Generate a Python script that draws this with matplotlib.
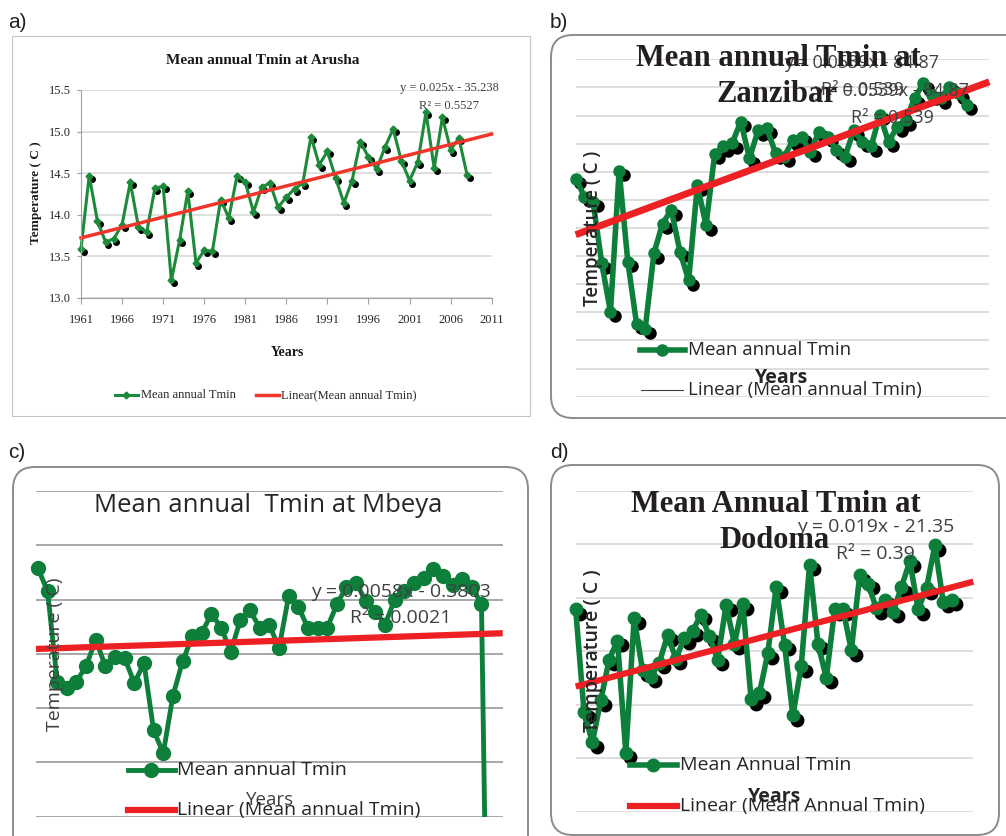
import numpy as np
import matplotlib
matplotlib.use("Agg")
import matplotlib.pyplot as plt
from matplotlib.patches import FancyBboxPatch, Rectangle
from matplotlib.lines import Line2D
from matplotlib.transforms import offset_copy

W, H = 1006, 836
SERIF = "Liberation Serif"
SANS = "Open Sans"
GREEN = "#0e7f3b"
RED = "#ed2024"

# ---- values ----
arusha_tmin = [13.59, 14.47, 13.92, 13.67, 13.71, 13.88, 14.39, 13.85, 13.79, 14.32,
               14.34, 13.21, 13.69, 14.28, 13.42, 13.57, 13.56, 14.18, 13.96, 14.47,
               14.39, 14.03, 14.33, 14.38, 14.09, 14.21, 14.31, 14.38, 14.94, 14.60,
               14.76, 14.44, 14.14, 14.41, 14.88, 14.69, 14.55, 14.81, 15.03, 14.65,
               14.41, 14.63, 15.23, 14.56, 15.17, 14.78, 14.92, 14.48]
arusha_trend = [13.72, 14.97]   # at 1961 and 2011

zanzibar_tmin = [22.88, 22.56, 22.47, 21.37, 20.51, 23.02, 21.40, 20.30, 20.21, 21.55,
                 22.08, 22.32, 21.58, 21.07, 22.76, 22.05, 23.32, 23.45, 23.51, 23.89,
                 23.24, 23.74, 23.77, 23.33, 23.27, 23.56, 23.62, 23.36, 23.71, 23.62,
                 23.39, 23.27, 23.74, 23.53, 23.45, 24.01, 23.53, 23.80, 23.92, 24.31,
                 24.57, 24.37, 24.31, 24.51, 24.40, 24.19]
zanzibar_trend = [21.88, 24.60]

mbeya_tmin = [12.58, 12.15, 10.49, 10.37, 10.49, 10.78, 11.26, 10.77, 10.95, 10.92,
              10.46, 10.83, 9.59, 9.17, 10.23, 10.86, 11.32, 11.39, 11.74, 11.48,
              11.04, 11.63, 11.80, 11.48, 11.54, 11.10, 12.06, 11.87, 11.48, 11.48,
              11.48, 11.91, 12.24, 12.31, 11.97, 11.78, 11.54, 12.00, 12.15, 12.31,
              12.40, 12.56, 12.43, 12.27, 12.37, 12.24, 11.91, 0.0]
mbeya_trend = [11.09, 11.38]

dodoma_tmin = [16.39, 15.43, 15.15, 15.54, 15.92, 16.10, 15.05, 16.31, 15.82, 15.76,
               15.89, 16.15, 15.93, 16.12, 16.19, 16.34, 16.14, 15.92, 16.43, 16.07,
               16.44, 15.55, 15.61, 15.98, 16.60, 16.06, 15.40, 15.86, 16.81, 16.07,
               15.75, 16.39, 16.39, 16.01, 16.71, 16.63, 16.40, 16.48, 16.37, 16.60,
               16.84, 16.39, 16.59, 16.99, 16.46, 16.48]
dodoma_trend = [15.67, 16.65]


def px_rect(x0, y0, x1, y1):
    return [x0 / W, 1 - y1 / H, (x1 - x0) / W, (y1 - y0) / H]


fig = plt.figure(figsize=(W / 100, H / 100), dpi=100)

# ---------- a) Arusha ----------
ax = fig.add_axes(px_rect(81, 90, 491.7, 297.7))
ax.set_facecolor("none")
yrs = np.arange(1961, 1961 + len(arusha_tmin))
ax.set_xlim(1961, 2011)
ax.set_ylim(13.0, 15.5)
ax.set_xticks(np.arange(1961, 2012, 5))
ax.set_yticks(np.arange(13.0, 15.51, 0.5))
ax.set_yticklabels(["%.1f" % v for v in np.arange(13.0, 15.51, 0.5)])
for lab in ax.get_xticklabels() + ax.get_yticklabels():
    lab.set_fontfamily(SERIF)
    lab.set_fontsize(9)
    lab.set_color("#262626")
ax.tick_params(axis="x", length=4, pad=8, color="#a0a0a0")
ax.tick_params(axis="y", length=3, pad=4, color="#a0a0a0")
ax.grid(axis="y", color="#d9d9d9", lw=1.2)
ax.set_axisbelow(True)
for s in ["top", "right"]:
    ax.spines[s].set_visible(False)
for s in ["left", "bottom"]:
    ax.spines[s].set_color("#a0a0a0")
tr = offset_copy(ax.transData, fig=fig, x=2.5, y=-3, units="dots")
ax.plot(yrs, arusha_tmin, "o", color="black", ms=4, transform=tr, clip_on=False)
ax.plot(yrs, arusha_tmin, "-D", color="#1d8a3a", lw=2.2, ms=3.5, clip_on=False)
ax.plot([1961, 2011], arusha_trend, color="#f0352b", lw=2.5, clip_on=False)


def excel_panel(rect, vals, trend, xlim, ylim, step, grid_color, lw, ms, red_lw,
                shadow=True, clip_low=False):
    ax = fig.add_axes(px_rect(*rect))
    ax.set_facecolor("none")
    yrs = np.arange(1961, 1961 + len(vals))
    ax.set_xlim(xlim)
    ax.set_ylim(ylim)
    ax.set_yticks(np.arange(ylim[0], ylim[1] + step / 2, step))
    ax.set_xticks([])
    ax.tick_params(left=False, labelleft=False)
    ax.grid(axis="y", color=grid_color, lw=1.1)
    for s in ax.spines.values():
        s.set_visible(False)
    if shadow:
        tr = offset_copy(ax.transData, fig=fig, x=4.5, y=-4.5, units="dots")
        ax.plot(yrs, vals, "o", color="black", ms=ms, transform=tr, clip_on=False)
    line, = ax.plot(yrs, vals, "-o", color=GREEN, lw=lw, ms=ms)
    if clip_low:
        line.set_clip_path(Rectangle((-0.2, 0), 1.4, 2, transform=ax.transAxes))
    else:
        line.set_clip_on(False)
    ax.plot(xlim, trend, color=RED, lw=red_lw, solid_capstyle="butt", clip_on=False)
    return ax


excel_panel((575.7, 59.3, 989.3, 396.7), zanzibar_tmin, zanzibar_trend,
            (1961, 2008.6), (19, 25), 0.5, "#d4d4d4", 4, 8, 5)
excel_panel((36, 491, 502.7, 816.7), mbeya_tmin, mbeya_trend,
            (1960.8, 2009.2), (8, 14), 1.0, "#8f8f8f", 3.5, 10, 4.5,
            shadow=False, clip_low=True)
excel_panel((575.7, 490.7, 973.3, 811.7), dodoma_tmin, dodoma_trend,
            (1961, 2008.6), (14.5, 17.5), 0.5, "#d4d4d4", 4, 9, 4.5)

# ---------- overlay: frames, texts, legend keys ----------
ov = fig.add_axes([0, 0, 1, 1], zorder=10)
ov.set_xlim(0, W)
ov.set_ylim(H, 0)
ov.axis("off")
ov.patch.set_alpha(0)

ov.add_patch(Rectangle((12, 36), 518, 380, fill=False, ec="#c4c4c4", lw=0.8))
for x0, y0, x1, y1 in [(551, 35, 1030, 418), (13, 467, 528, 870), (551, 465, 999, 835)]:
    ov.add_patch(FancyBboxPatch((x0, y0), x1 - x0, y1 - y0,
                                boxstyle="round,pad=0,rounding_size=22",
                                fill=False, ec="#8c8c8c", lw=1.4, clip_on=False))

for x, y, s in [(8, 22, "a)"), (550, 22, "b)"), (8, 453, "c)"), (550, 452, "d)")]:
    ov.text(x, y, s, fontsize=15, family="Liberation Sans", va="center", ha="left",
            color="#231f20")


def t(x, y, s, fam, size, **kw):
    kw.setdefault("ha", "center")
    kw.setdefault("va", "center")
    ov.text(x, y, s, family=fam, fontsize=size, **kw)


# a)
t(263, 60, "Mean annual Tmin at Arusha", SERIF, 11, weight="bold", color="#1a1a1a")
t(449, 88, "y = 0.025x - 35.238", SERIF, 9, color="#404040")
t(449, 106, "R² = 0.5527", SERIF, 9, color="#404040")
t(287, 353, "Years", SERIF, 10, weight="bold", color="#1a1a1a")
t(36, 193, "Temperature ( C )", SERIF, 9.5, weight="bold", rotation=90, color="#1a1a1a")
t(141, 395, "Mean annual Tmin", SERIF, 9, ha="left", color="#262626")
t(281, 395, "Linear(Mean annual Tmin)", SERIF, 9, ha="left", color="#262626")
ov.add_line(Line2D([115, 138], [395, 395], color="#1d8a3a", lw=2.2))
ov.plot([126.5], [395], "D", color="#1d8a3a", ms=3.5)
ov.add_line(Line2D([256, 279], [395, 395], color="#f0352b", lw=2.5))

# b)
for dx, dy in [(0, 0), (30, 28)]:
    t(862 + dx, 62.7 + dy, "y = 0.0539x - 84.87", SANS, 13, color="#404040")
    t(862 + dx, 90 + dy, "R² = 0.539", SANS, 13, color="#404040")
t(778, 59, "Mean annual Tmin at", SERIF, 22, weight="bold", color="#231f20")
t(777, 95, "Zanzibar", SERIF, 22, weight="bold", color="#231f20")
t(593, 228, "Temperature ( C )", SANS, 13.5, weight="semibold", rotation=90, color="#262626")
t(782, 378, "Years", SANS, 14, weight="bold", color="#262626")
t(688, 350, "Mean annual Tmin", SANS, 13.5, ha="left", color="#262626")
t(688, 390, "Linear (Mean annual Tmin)", SANS, 13.5, ha="left", color="#262626")
ov.add_line(Line2D([640, 685], [350, 350], color=GREEN, lw=4))
ov.plot([662], [350], "o", color=GREEN, ms=8)
ov.add_line(Line2D([641, 683], [390, 390], color="#404040", lw=0.8))

# c)
t(268, 505, "Mean annual  Tmin at Mbeya", SANS, 18.5, color="#262626")
t(401, 591.7, "y = 0.0058x - 0.3803", SANS, 14, color="#404040")
t(401, 618.3, "R² = 0.0021", SANS, 14, color="#404040")
t(55, 654, "Temperature ( C)", SANS, 14, rotation=90, color="#404040")
t(270, 800, "Years", SANS, 13.5, color="#404040")
t(177, 770, "Mean annual Tmin", SANS, 14, ha="left", color="#262626")
t(177, 810, "Linear (Mean annual Tmin)", SANS, 14, ha="left", color="#262626")
ov.add_line(Line2D([128, 175], [770, 770], color=GREEN, lw=3.5))
ov.plot([151.5], [770], "o", color=GREEN, ms=10)
ov.add_line(Line2D([128, 175], [810, 810], color=RED, lw=4.5))

# d)
t(876, 527, "y = 0.019x - 21.35", SANS, 14, color="#404040")
t(875, 554, "R² = 0.39", SANS, 14, color="#404040")
t(775.5, 504, "Mean Annual Tmin at", SERIF, 22, weight="bold", color="#231f20")
t(775, 540, "Dodoma", SERIF, 22, weight="bold", color="#231f20")
t(593, 651, "Temperature ( C )", SANS, 14, weight="semibold", rotation=90, color="#262626")
t(775, 797, "Years", SANS, 14, weight="bold", color="#262626")
t(680, 765, "Mean Annual Tmin", SANS, 14, ha="left", color="#262626")
t(680, 805.7, "Linear (Mean Annual Tmin)", SANS, 14, ha="left", color="#262626")
ov.add_line(Line2D([630, 677], [765, 765], color=GREEN, lw=4))
ov.plot([653], [765], "o", color=GREEN, ms=9)
ov.add_line(Line2D([630, 677], [805.7, 805.7], color=RED, lw=4.5))

fig.savefig("out.png", dpi=100)
